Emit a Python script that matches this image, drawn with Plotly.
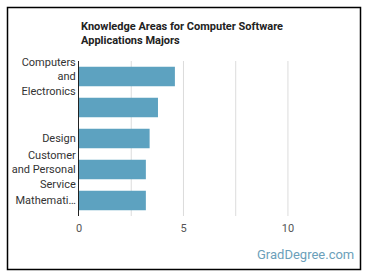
import plotly.graph_objects as go

categories = ["Computers<br>and<br>Electronics", "", "Design", "Customer<br>and Personal<br>Service", "Mathemati…"]
values = [4.59, 3.78, 3.38, 3.2, 3.2]
x_ticks = [0, 5, 10]

W, H = 370, 278
L, R, T, B = 79, 34, 61, 62
pw = W - L - R
ph = H - T - B

def px_x(p):
    return (p - L) / pw

def px_y(p):
    return (H - B - p) / ph

positions = list(range(len(categories)))

fig = go.Figure(go.Bar(
    x=values, y=positions, orientation="h",
    marker=dict(color="#5da2c0", line=dict(width=0)),
    hoverinfo="skip",
))

fig.update_layout(
    width=W, height=H,
    margin=dict(l=L, r=R, t=T, b=B),
    paper_bgcolor="white", plot_bgcolor="white",
    showlegend=False,
    bargap=0.37,
    font=dict(family="Roboto", size=11, color="#333"),
    xaxis=dict(range=[0, 12.3], tickvals=x_ticks, showgrid=False, zeroline=False,
               tickfont=dict(size=11, color="#555"), ticks="", fixedrange=True,
               ticklabelstandoff=4),
    yaxis=dict(tickvals=positions, ticktext=categories, autorange=False,
               range=[len(categories) - 0.5, -0.5],
               showline=True, linecolor="#222", linewidth=1,
               ticks="", showgrid=False, zeroline=False,
               tickfont=dict(size=11, color="#333")),
    shapes=[
        dict(type="rect", xref="paper", yref="paper",
             x0=px_x(7.5), x1=px_x(360.5), y0=px_y(269.5), y1=px_y(7.5),
             line=dict(color="black", width=1.5), layer="above"),
    ] + [
        dict(type="line", xref="x", yref="paper", x0=g, x1=g, y0=0, y1=1,
             line=dict(color="#dcdcdc", width=1), layer="below")
        for g in [2.5, 5, 7.5, 10]
    ],
    annotations=[
        dict(text="<b>Knowledge Areas for Computer Software<br>Applications Majors</b>",
             xref="paper", yref="paper", x=px_x(79), y=px_y(33), xanchor="left", yanchor="middle",
             align="left", showarrow=False, font=dict(family="Roboto", size=11, color="#222")),
        dict(text="GradDegree.com", xref="paper", yref="paper", x=px_x(356), y=px_y(255),
             xanchor="right", yanchor="middle", showarrow=False,
             font=dict(family="Roboto", size=13, color="#6c9fba")),
    ],
)

fig.write_html("out.html")
